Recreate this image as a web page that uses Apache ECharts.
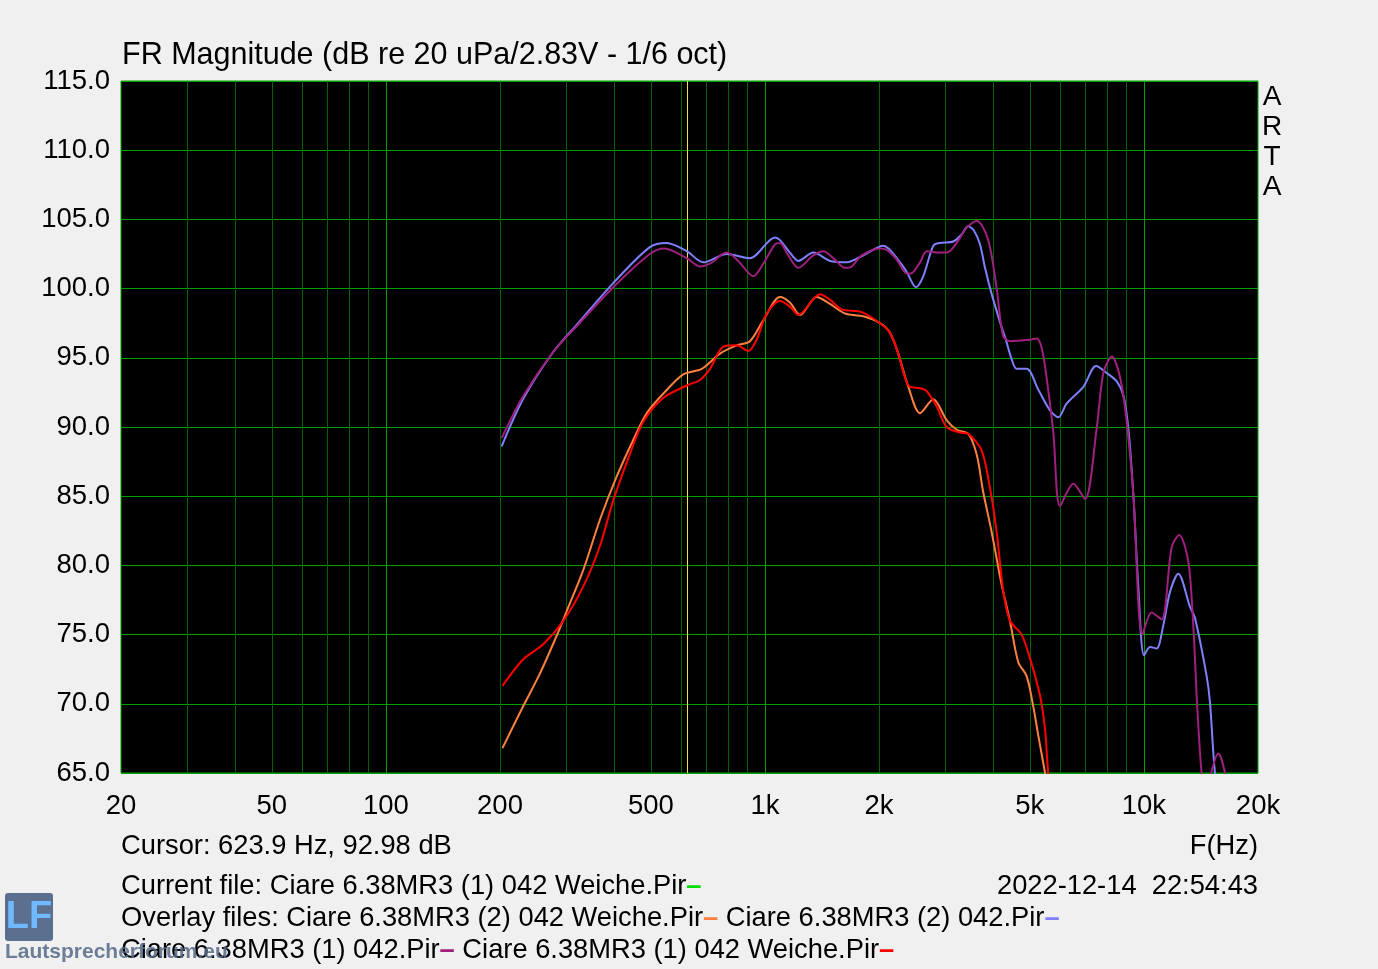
<!DOCTYPE html>
<html>
<head>
<meta charset="utf-8">
<script src="https://cdn.jsdelivr.net/npm/echarts@6/dist/echarts.min.js"></script>
<style>
  html, body { margin: 0; padding: 0; background: #f0f0f0; }
  #main { width: 1378px; height: 969px; }
</style>
</head>
<body>
<div id="main"></div>
<script>
// axis ticks
var xTicks = [20, 50, 100, 200, 500, 1000, 2000, 5000, 10000, 20000];
var xMinorLines = [30, 40, 50, 60, 70, 80, 90, 200, 300, 400, 500, 600, 700, 800, 900,
                   2000, 3000, 4000, 5000, 6000, 7000, 8000, 9000];
var xMajorLines = [100, 1000, 10000];
var cursorFreq = 623.9;

// Ciare 6.38MR3 (2) 042 Weiche.Pir  (orange)
var freqOrange = [203, 230, 255, 282, 300, 332, 367, 406, 450, 488, 539, 609, 681, 761, 842, 913, 990,
                  1096, 1164, 1238, 1369, 1485, 1627, 1818, 2012, 2139, 2248, 2390, 2566, 2782, 3016,
                  3207, 3440, 3622, 3767, 3966, 4214, 4430, 4662, 4905, 5107, 5265, 5483, 5700];
var dbOrange = [66.8, 69.8, 72.2, 74.9, 76.7, 79.7, 83.3, 86.4, 89.1, 91.0, 92.4, 93.8, 94.2, 95.3, 95.9, 96.2, 97.7,
                99.4, 99.0, 98.1, 99.4, 98.9, 98.2, 98.0, 97.5, 96.8, 95.3, 92.9, 91.0, 92.0, 90.5,
                89.8, 89.5, 88.0, 85.3, 82.4, 78.6, 76.0, 73.0, 72.0, 69.8, 67.7, 65.0, 62.0];

// Ciare 6.38MR3 (2) 042.Pir  (blue)
var freqBlue = [202, 230, 276, 319, 398, 497, 551, 622, 688, 793, 913, 1063, 1096, 1164, 1225, 1342, 1485,
                1644, 1818, 2053, 2273, 2367, 2504, 2618, 2782, 2897, 3141, 3300, 3440, 3560, 3694, 3808,
                3966, 4214, 4301, 4477, 4616, 4905, 5265, 5652, 5944, 6257, 6923, 7475, 7978, 8478, 8826,
                9096, 9379, 9668, 10008, 10378, 10805, 11254, 11722, 12324, 13232, 13640, 14640, 14939,
                15399, 16000];
var dbBlue = [88.6, 92.0, 95.4, 97.4, 100.4, 103.0, 103.3, 102.7, 101.9, 102.5, 102.2, 103.7, 103.5, 102.6, 102.0, 102.6, 102.0,
              101.9, 102.4, 103.1, 101.9, 101.2, 100.1, 100.9, 103.1, 103.3, 103.4, 103.9, 104.5, 104.2, 103.2, 101.5,
              99.6, 97.2, 96.5, 94.9, 94.2, 94.2, 92.7, 91.2, 90.7, 91.7, 92.9, 94.4, 93.9, 93.3, 92.3,
              89.9, 85.1, 78.4, 73.5, 74.1, 74.0, 75.7, 78.1, 79.4, 77.0, 76.2, 72.0, 70.1,
              65.0, 62.0];

// Ciare 6.38MR3 (1) 042.Pir  (magenta)
var freqMagenta = [202, 230, 276, 319, 398, 497, 543, 622, 674, 716, 793, 850, 932, 990, 1063, 1096, 1141,
                   1225, 1342, 1426, 1515, 1627, 1695, 1800, 2012, 2096, 2227, 2367, 2430, 2566, 2670, 2838,
                   3016, 3207, 3407, 3622, 3884, 4088, 4250, 4430, 5000, 5214, 5350, 5483, 5768, 6007, 6512,
                   6992, 7506, 7815, 8228, 8650, 9006, 9379, 9906, 10484, 11141, 11835, 12394, 13092, 13495,
                   13826, 14199, 14600, 15050, 15715, 16366, 17000];
var dbMagenta = [89.2, 92.2, 95.4, 97.3, 100.1, 102.5, 102.9, 102.2, 101.6, 101.8, 102.6, 102.0, 100.9, 101.8, 103.2, 103.3, 102.6,
                 101.5, 102.4, 102.7, 102.2, 101.5, 101.6, 102.4, 102.9, 102.8, 102.1, 101.1, 101.1, 101.9, 102.7, 102.6,
                 102.6, 103.3, 104.4, 104.9, 103.5, 100.0, 96.6, 96.2, 96.3, 96.4, 95.9, 94.4, 89.6, 84.3, 85.9,
                 84.8, 89.9, 93.9, 95.1, 93.6, 90.4, 85.1, 75.0, 76.6, 76.1, 81.3, 82.2, 80.3, 75.7,
                 69.8, 65.0, 63.0, 65.0, 66.4, 65.0, 62.0];

// Ciare 6.38MR3 (1) 042 Weiche.Pir  (red)
var freqRed = [203, 230, 260, 294, 332, 367, 398, 441, 478, 539, 622, 674, 716, 777, 842, 904, 951, 1011,
               1096, 1164, 1225, 1397, 1485, 1594, 1800, 2012, 2139, 2248, 2390, 2566, 2670, 2838, 3016,
               3271, 3440, 3732, 3925, 4088, 4257, 4430, 4756, 5004, 5318, 5483, 5593, 5800];
var dbRed = [71.3, 73.2, 74.3, 76.0, 78.5, 81.4, 84.7, 88.1, 90.4, 92.1, 93.0, 93.4, 94.2, 95.8, 95.9, 95.5, 96.3, 98.2,
             99.1, 98.7, 98.1, 99.6, 99.2, 98.5, 98.3, 97.5, 96.8, 95.3, 93.0, 92.8, 92.6, 91.5, 90.0,
             89.6, 89.5, 88.3, 85.6, 82.4, 78.1, 76.0, 75.0, 73.3, 70.6, 68.2, 65.0, 62.0];

function pairs(f, d) { return f.map(function (v, i) { return [v, d[i]]; }); }

var font = 'Liberation Sans, Arial, sans-serif';
var txt = '27.3px ' + font;

function curve(name, color, f, d) {
  return {
    name: name, type: 'line', data: pairs(f, d), showSymbol: false, symbol: 'none',
    smooth: 0.3, lineStyle: { color: color, width: 2 }, z: 3, clip: true
  };
}

function vlines(values, color, z) {
  return {
    silent: true, symbol: ['none', 'none'], z: z, animation: false,
    label: { show: false },
    lineStyle: { color: color, width: 1, type: 'solid' },
    emphasis: { disabled: true },
    data: values.map(function (v) { return { xAxis: v }; })
  };
}

var chart = echarts.init(document.getElementById('main'));
chart.setOption({
  backgroundColor: '#f0f0f0',
  animation: false,
  grid: {
    left: 121, top: 81, width: 1137, height: 692,
    show: true, backgroundColor: '#000000', borderColor: '#00a000', borderWidth: 1
  },
  xAxis: {
    type: 'log', logBase: 10, min: 20, max: 20000,
    axisLine: { show: false }, axisTick: { show: false }, splitLine: { show: false },
    axisLabel: {
      customValues: xTicks, color: '#000', fontSize: 27.5, fontFamily: font, margin: 19,
      formatter: function (v) { return v >= 1000 ? (v / 1000) + 'k' : String(v); }
    }
  },
  yAxis: {
    type: 'value', min: 65, max: 115, interval: 5,
    axisLine: { show: false }, axisTick: { show: false },
    splitLine: { show: true, lineStyle: { color: '#00a000', width: 1 } },
    axisLabel: {
      color: '#000', fontSize: 27.5, fontFamily: font, margin: 11,
      formatter: function (v) { return v.toFixed(1); }
    }
  },
  series: [
    {
      name: 'grid', type: 'line', data: [[20, 65]], symbol: 'none', lineStyle: { opacity: 0 }, z: 1,
      markLine: vlines(xMinorLines, '#006400', 1)
    },
    {
      name: 'grid2', type: 'line', data: [[20, 65]], symbol: 'none', lineStyle: { opacity: 0 }, z: 1,
      markLine: vlines(xMajorLines, '#00a000', 1)
    },
    {
      name: 'cursor', type: 'line', data: [[20, 65]], symbol: 'none', lineStyle: { opacity: 0 }, z: 1,
      markLine: vlines([cursorFreq], '#e8e640', 2)
    },
    curve('Ciare 6.38MR3 (2) 042 Weiche.Pir', '#ff8040', freqOrange, dbOrange),
    curve('Ciare 6.38MR3 (2) 042.Pir', '#8080ff', freqBlue, dbBlue),
    curve('Ciare 6.38MR3 (1) 042.Pir', '#a0207f', freqMagenta, dbMagenta),
    curve('Ciare 6.38MR3 (1) 042 Weiche.Pir', '#ff0000', freqRed, dbRed)
  ],
  graphic: [
    { type: 'text', x: 122, y: 56, style: { text: 'FR Magnitude (dB re 20 uPa/2.83V - 1/6 oct)', font: '30.5px ' + font, fill: '#000', verticalAlign: 'middle' } },
    { type: 'text', x: 1272, y: 97, style: { text: 'A', font: '28px ' + font, fill: '#000', align: 'center', verticalAlign: 'middle' } },
    { type: 'text', x: 1272, y: 127, style: { text: 'R', font: '28px ' + font, fill: '#000', align: 'center', verticalAlign: 'middle' } },
    { type: 'text', x: 1272, y: 157, style: { text: 'T', font: '28px ' + font, fill: '#000', align: 'center', verticalAlign: 'middle' } },
    { type: 'text', x: 1272, y: 187, style: { text: 'A', font: '28px ' + font, fill: '#000', align: 'center', verticalAlign: 'middle' } },
    { type: 'text', x: 121, y: 846, style: { text: 'Cursor: 623.9 Hz, 92.98 dB', font: txt, fill: '#000', verticalAlign: 'middle' } },
    { type: 'text', x: 1258, y: 846, style: { text: 'F(Hz)', font: txt, fill: '#000', align: 'right', verticalAlign: 'middle' } },
    { type: 'text', x: 1258, y: 886, style: { text: '2022-12-14  22:54:43', font: txt, fill: '#000', align: 'right', verticalAlign: 'middle' } },
    { type: 'rect', shape: { x: 5, y: 893, width: 48, height: 48, r: 3 }, style: { fill: '#5b6f8e' } },
    { type: 'text', x: 29, y: 918, style: { text: 'LF', font: 'bold 38px ' + font, fill: '#70b8ff', align: 'center', verticalAlign: 'middle' } },
    {
      type: 'text', x: 121, y: 886, z: 10,
      style: {
        text: '{t|Current file: Ciare 6.38MR3 (1) 042 Weiche.Pir}{g|–}',
        verticalAlign: 'middle',
        rich: {
          t: { font: txt, fill: '#000' },
          g: { font: 'bold ' + txt, fill: '#00e000' }
        }
      }
    },
    {
      type: 'text', x: 121, y: 918, z: 10,
      style: {
        text: '{t|Overlay files: Ciare 6.38MR3 (2) 042 Weiche.Pir}{o|–}{t| Ciare 6.38MR3 (2) 042.Pir}{b|–}',
        verticalAlign: 'middle',
        rich: {
          t: { font: txt, fill: '#000' },
          o: { font: 'bold ' + txt, fill: '#ff8040' },
          b: { font: 'bold ' + txt, fill: '#8080ff' }
        }
      }
    },
    {
      type: 'text', x: 121, y: 950, z: 10,
      style: {
        text: '{t|Ciare 6.38MR3 (1) 042.Pir}{m|–}{t| Ciare 6.38MR3 (1) 042 Weiche.Pir}{r|–}',
        verticalAlign: 'middle',
        rich: {
          t: { font: txt, fill: '#000' },
          m: { font: 'bold ' + txt, fill: '#a0207f' },
          r: { font: 'bold ' + txt, fill: '#ff0000' }
        }
      }
    },
    { type: 'text', x: 5, y: 952, z: 11, style: { text: 'Lautsprecherforum.eu', font: 'bold 21px ' + font, fill: 'rgba(85,105,135,0.85)', verticalAlign: 'middle' } }
  ]
});
</script>
</body>
</html>
